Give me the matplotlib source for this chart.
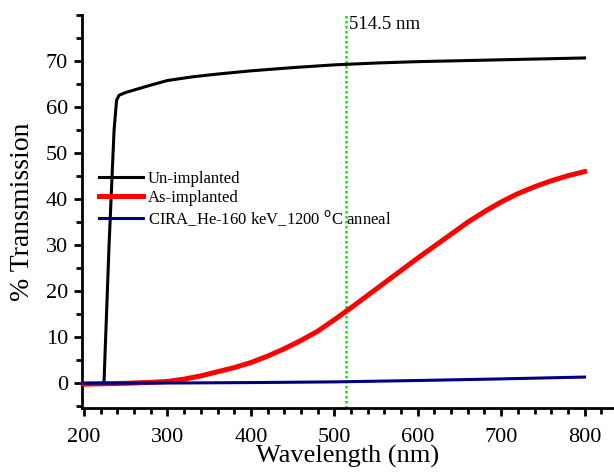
import matplotlib.pyplot as plt
from matplotlib.ticker import MultipleLocator

# Un-implanted (black)
wl_un = [200, 210, 222, 224, 230, 236, 239, 242, 250, 265, 280, 300, 330, 360,
         400, 450, 500, 550, 600, 650, 700, 750, 800]
tr_un = [0.0, 0.0, 0.0, 0.5, 30.0, 55.0, 61.5, 62.6, 63.2, 64.0, 64.8, 65.8, 66.6,
         67.2, 67.9, 68.6, 69.2, 69.6, 69.9, 70.1, 70.3, 70.5, 70.7]

# As-implanted (red)
wl_as = [200, 250, 280, 300, 320, 340, 360, 380, 400, 420, 440, 460, 480, 500,
         520, 540, 560, 580, 600, 620, 640, 660, 680, 700, 720, 740, 760, 780, 800]
tr_as = [-0.2, 0.0, 0.2, 0.4, 0.9, 1.6, 2.5, 3.4, 4.5, 5.9, 7.5, 9.3, 11.3, 13.8,
         16.4, 19.1, 21.8, 24.5, 27.2, 29.8, 32.4, 35.0, 37.3, 39.4, 41.2, 42.7,
         44.0, 45.1, 46.0]

# CIRA_He-160 keV_1200 C anneal (blue)
wl_an = [200, 300, 400, 500, 600, 700, 800]
tr_an = [0.0, 0.05, 0.15, 0.3, 0.6, 0.95, 1.35]

LASER_WL = 514.5

plt.rcParams["font.family"] = ["Liberation Serif", "DejaVu Serif"]

fig = plt.figure(figsize=(6.14, 4.74), dpi=100)
ax = fig.add_axes([0.1336, 0.139, 0.866, 0.829])

ax.plot(wl_un, tr_un, color="black", lw=2.2, label="Un-implanted", zorder=3)
ax.plot(wl_as, tr_as, color="#ff0000", lw=3.6, label="As-implanted", zorder=3)
ax.plot(wl_an, tr_an, color="#000080", lw=2.2,
        label="CIRA_He-160 keV_1200 $^{\\rm o}$C anneal", zorder=4)
ax.axvline(LASER_WL, color="#00ee00", lw=1.8, ls=(0, (1, 1)), zorder=2)
ax.text(LASER_WL + 3, 78.0, "514.5 nm", fontsize=13.5, ha="left", va="center")

ax.set_xlim(197.6, 835)
ax.set_ylim(-5.4, 80)
ax.xaxis.set_major_locator(MultipleLocator(100))
ax.xaxis.set_minor_locator(MultipleLocator(20))
ax.yaxis.set_major_locator(MultipleLocator(10))
ax.yaxis.set_minor_locator(MultipleLocator(5))
ax.set_xticks(range(200, 801, 100))
ax.set_yticks(range(0, 71, 10))

for s in ["top", "right"]:
    ax.spines[s].set_visible(False)
for s in ["left", "bottom"]:
    ax.spines[s].set_linewidth(2)
ax.tick_params(which="major", direction="out", length=6, width=2, labelsize=16)
ax.tick_params(which="minor", direction="out", length=4, width=2)
ax.tick_params(axis="x", which="major", pad=8)
ax.tick_params(axis="y", which="major", pad=4)

ax.set_xlabel("Wavelength (nm)", fontsize=19, labelpad=-1)
ax.set_ylabel("% Transmission", fontsize=20, labelpad=8)

ax.legend(loc="upper left", bbox_to_anchor=(0.02, 0.62), frameon=False,
          fontsize=12, handlelength=2.6, handletextpad=0.3, labelspacing=0.15,
          borderaxespad=0)

fig.savefig("out.png", dpi=100)
